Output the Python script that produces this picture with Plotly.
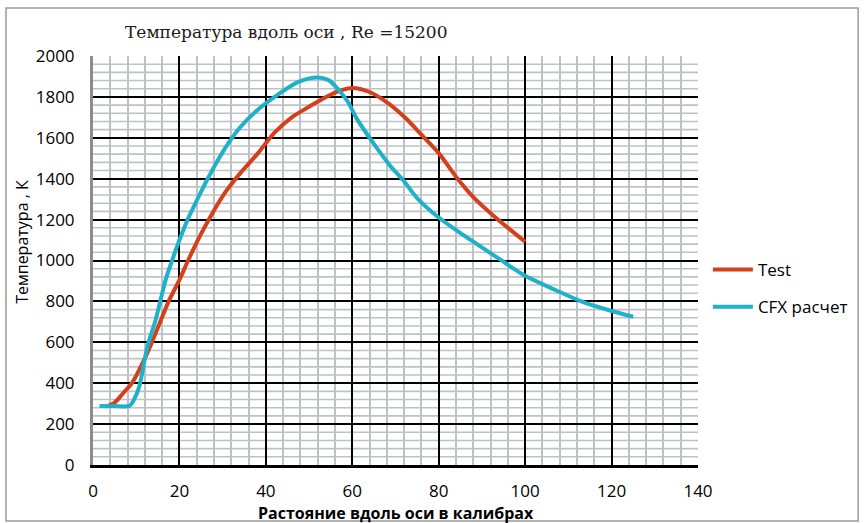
import plotly.graph_objects as go

# Axial temperature profile, Re = 15200
test_x = [3, 5, 7, 9, 12.5, 14.5, 17.5, 20, 22, 25, 28, 31, 34, 38, 42, 46, 50,
          53.5, 57, 60, 64, 68.5, 72.5, 76, 80, 84, 88, 93, 100]
test_t = [285, 305, 352, 400, 545, 645, 800, 905, 1000, 1130, 1245, 1345, 1425,
          1520, 1625, 1700, 1752, 1795, 1830, 1844, 1824, 1766, 1693, 1615, 1525,
          1410, 1310, 1213, 1092]

cfx_x = [1.5, 5, 8.5, 9.5, 10.7, 12.6, 14.5, 16.8, 18.3, 20, 22, 24.4, 26.3, 30,
         34, 38, 42.7, 47.3, 51.5, 54.5, 57, 59, 61, 65, 68.7, 71.8, 75, 80, 86,
         93.5, 100, 107, 113, 120, 125]
cfx_t = [288, 288, 290, 320, 383, 580, 710, 905, 1000, 1100, 1205, 1310, 1390,
         1530, 1650, 1735, 1810, 1871, 1895, 1882, 1830, 1775, 1695, 1570, 1465,
         1392, 1305, 1210, 1120, 1015, 925, 856, 800, 753, 725]

X_RANGE = [0, 140]
Y_RANGE = [0, 2000]
Y_MAJOR, Y_MINOR = 200, 40

RED = "#D2411C"
CYAN = "#1FB1C9"
MINOR_GRID = "#BEC2C6"
TICK_FONT = dict(family="Open Sans", size=17, color="#000000")

fig = go.Figure()
fig.add_trace(go.Scatter(x=test_x, y=test_t, mode="lines", name="Test",
                         legendgroup="a",
                         line=dict(color=RED, width=4, shape="spline", smoothing=0.8)))
fig.add_trace(go.Scatter(x=cfx_x, y=cfx_t, mode="lines", name="CFX расчет",
                         legendgroup="b",
                         line=dict(color=CYAN, width=4, shape="spline", smoothing=0.8)))

L, R, T, B = 93, 160, 56, 58
W, H = 865, 523
pw, ph = W - L - R, H - T - B

def px_x(p):
    return (p - L) / pw

def px_y(p):
    return (H - B - p) / ph

# horizontal minor grid (every 40 K), drawn underneath the major grid
shapes = []
for v in range(Y_RANGE[0], Y_RANGE[1] + 1, Y_MINOR):
    if v % Y_MAJOR:
        shapes.append(dict(type="line", xref="paper", yref="y", x0=0, x1=1,
                           y0=v, y1=v, layer="below",
                           line=dict(color=MINOR_GRID, width=1.6)))
# outer chart border
shapes.append(dict(type="rect", xref="paper", yref="paper",
                   x0=px_x(5), x1=px_x(867), y0=px_y(521), y1=px_y(8),
                   line=dict(color="#9A9A9A", width=1.5), layer="below"))

fig.update_layout(
    width=W, height=H,
    margin=dict(l=L, r=R, t=T, b=B),
    paper_bgcolor="white", plot_bgcolor="rgba(0,0,0,0)",
    showlegend=True,
    legend=dict(x=px_x(715), y=px_y(252), xanchor="left", yanchor="top",
                font=dict(family="Open Sans", size=17, color="#000000"),
                tracegroupgap=12, itemwidth=40, bgcolor="rgba(0,0,0,0)"),
    xaxis=dict(range=X_RANGE, tickmode="linear", tick0=0, dtick=20,
               tickfont=TICK_FONT,
               showgrid=True, gridcolor="#000000", gridwidth=1.6,
               minor=dict(tickmode="linear", tick0=0, dtick=4, showgrid=True,
                          gridcolor=MINOR_GRID, gridwidth=1.6),
               zeroline=False, showline=True, linecolor="#000000", linewidth=2.5,
               ticks="", ticklabelstandoff=9, fixedrange=True),
    yaxis=dict(range=Y_RANGE, tickmode="linear", tick0=0, dtick=Y_MAJOR,
               tickfont=TICK_FONT,
               showgrid=True, gridcolor="#000000", gridwidth=1.6,
               zeroline=False, showline=True, linecolor="#8C8C8C", linewidth=3,
               ticks="", ticklabelstandoff=12, fixedrange=True),
    shapes=shapes,
    annotations=[
        dict(text="Температура вдоль оси , Re =15200", xref="paper", yref="paper",
             x=px_x(288), y=px_y(32), xanchor="center", yanchor="middle",
             showarrow=False,
             font=dict(family="DejaVu Serif", size=17, color="#1a1a1a")),
        dict(text="<b>Растояние вдоль оси в калибрах</b>", xref="paper", yref="paper",
             x=px_x(399), y=px_y(513), xanchor="center", yanchor="middle",
             showarrow=False,
             font=dict(family="Open Sans", size=16, color="#000000")),
        dict(text="Температура , К", xref="paper", yref="paper",
             x=px_x(21), y=px_y(242), xanchor="center", yanchor="middle",
             showarrow=False, textangle=-90,
             font=dict(family="Open Sans", size=16, color="#000000")),
    ],
)

fig.write_html("out.html")
